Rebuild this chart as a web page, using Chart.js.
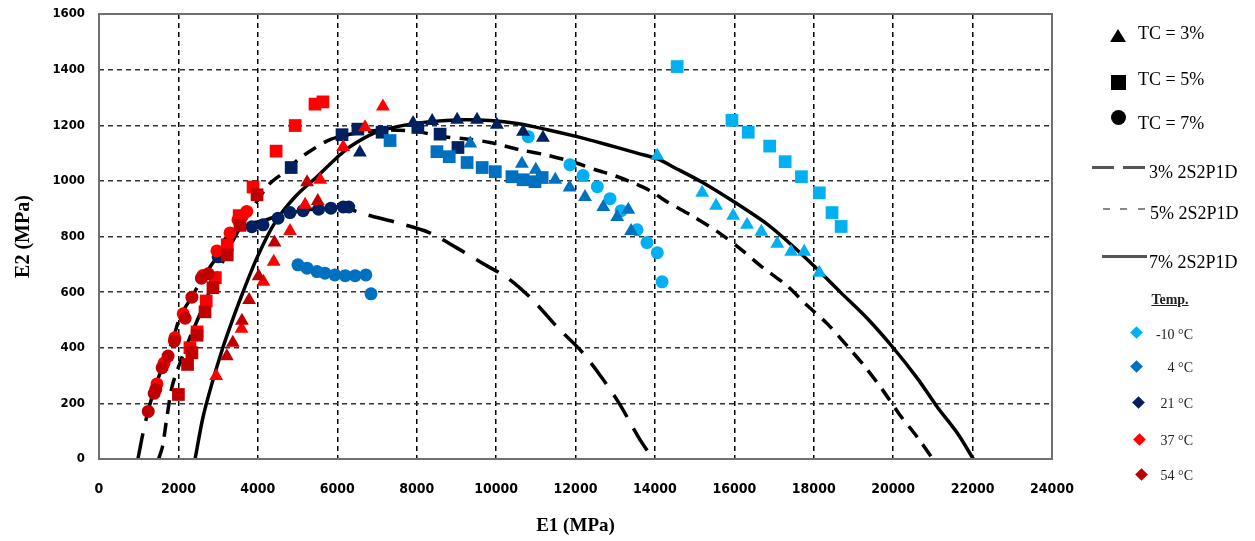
<!DOCTYPE html>
<html>
<head>
<meta charset="utf-8">
<script src="https://cdn.jsdelivr.net/npm/chart.js@4.4.1/dist/chart.umd.min.js"></script>
<style>
  body { margin: 0; background: #fff; }
  #wrap { position: relative; width: 1255px; height: 541px; }
  .lg { position: absolute; font-family: 'Liberation Serif', 'Times New Roman', serif; color: #000; white-space: nowrap; }
  .tc { font-size: 18px; line-height: 20px; }
  .tp { font-size: 14px; line-height: 16px; color: #222; width: 93px; left: 1100px; text-align: right; }
  .sym { position: absolute; }
  .dia { position: absolute; width: 9px; height: 9px; transform: rotate(45deg); }
  .seg { position: absolute; }
</style>
</head>
<body>
<div id="wrap">
  <canvas id="chart"></canvas>

  <!-- legend: marker shapes -->
  <div class="sym" style="left:1110px;top:29px;width:0;height:0;border-left:8px solid transparent;border-right:8px solid transparent;border-bottom:13px solid #000;"></div>
  <div class="lg tc" style="left:1138px;top:23px;">TC = 3%</div>
  <div class="sym" style="left:1111px;top:75px;width:15px;height:15px;background:#000;"></div>
  <div class="lg tc" style="left:1138px;top:69px;">TC = 5%</div>
  <div class="sym" style="left:1111px;top:110px;width:15px;height:15px;border-radius:50%;background:#000;"></div>
  <div class="lg tc" style="left:1138px;top:113px;">TC = 7%</div>

  <!-- legend: model curves -->
  <div class="seg" style="left:1092px;top:166px;width:22px;height:3px;background:#555;"></div>
  <div class="seg" style="left:1123px;top:166px;width:22px;height:3px;background:#555;"></div>
  <div class="lg tc" style="left:1149px;top:162px;">3% 2S2P1D</div>
  <div class="seg" style="left:1103px;top:208px;width:7px;height:2px;background:#888;"></div>
  <div class="seg" style="left:1120px;top:208px;width:7px;height:2px;background:#888;"></div>
  <div class="seg" style="left:1138px;top:208px;width:7px;height:2px;background:#888;"></div>
  <div class="lg tc" style="left:1150px;top:203px;">5% 2S2P1D</div>
  <div class="seg" style="left:1102px;top:255px;width:45px;height:3px;background:#555;"></div>
  <div class="lg tc" style="left:1149px;top:252px;">7% 2S2P1D</div>

  <!-- legend: temperatures -->
  <div class="lg" style="left:1148px;top:292px;width:44px;text-align:center;font-size:14px;line-height:16px;font-weight:bold;text-decoration:underline;color:#222;">Temp.</div>
  <div class="dia" style="left:1132px;top:328px;background:#00B0F0;"></div>
  <div class="lg tp" style="top:327px;">-10 °C</div>
  <div class="dia" style="left:1132px;top:362px;background:#0070C0;"></div>
  <div class="lg tp" style="top:360px;">4 °C</div>
  <div class="dia" style="left:1134px;top:398px;background:#002060;"></div>
  <div class="lg tp" style="top:396px;">21 °C</div>
  <div class="dia" style="left:1135px;top:435px;background:#FF0000;"></div>
  <div class="lg tp" style="top:433px;">37 °C</div>
  <div class="dia" style="left:1137px;top:470px;background:#C00000;"></div>
  <div class="lg tp" style="top:468px;">54 °C</div>
</div>

<script>
// ticks
const xTicks = [0, 2000, 4000, 6000, 8000, 10000, 12000, 14000, 16000, 18000, 20000, 22000, 24000];
const yTicks = [0, 200, 400, 600, 800, 1000, 1200, 1400, 1600];

// measured points [E1, E2] (MPa), read off the figure
// -10 °C
const tri_m10 = [[14060,1090],[15190,957],[15540,911],[15970,875],[16320,842],[16680,817],[17080,774],[17430,745],[17760,745],[18140,670]];
const sq_m10  = [[14560,1411],[15940,1218],[16350,1175],[16890,1125],[17280,1069],[17690,1015],[18140,957],[18460,886],[18690,836]];
const ci_m10  = [[10810,1159],[11860,1058],[12190,1019],[12550,979],[12870,936],[13150,893],[13550,824],[13800,778],[14060,742],[14180,637]];
// 4 °C
const tri_4 = [[9350,1134],[10650,1062],[11000,1040],[11490,1004],[11850,976],[12240,942],[12700,906],[13050,870],[13330,896],[13400,820]];
const sq_4  = [[7330,1145],[8510,1105],[8820,1087],[9270,1066],[9650,1048],[9980,1033],[10400,1015],[10680,1004],[10980,997],[11160,1012]];
const ci_4  = [[5010,698],[5240,686],[5490,674],[5690,668],[5940,662],[6200,659],[6450,659],[6720,662],[6850,594]];
// 21 °C
const tri_21 = [[6570,1102],[7910,1208],[8390,1215],[9020,1220],[9520,1220],[10020,1202],[10680,1177],[11180,1155]];
const sq_21  = [[4840,1048],[6120,1166],[6520,1186],[7130,1175],[8030,1192],[8590,1168],[9040,1120]];
const ci_21  = [[3000,727],[3850,835],[4130,842],[4510,866],[4810,886],[5140,893],[5530,898],[5840,902],[6150,906],[6290,906]];
// 37 °C
const tri_37 = [[7150,1267],[6700,1193],[6150,1122],[5570,1004],[5190,914],[4810,820],[4400,709],[4140,637],[3590,468],[2950,298]];
const sq_37  = [[5440,1276],[5640,1284],[4940,1199],[4460,1107],[3880,978],[3530,875],[3230,770],[2930,652],[2700,568],[2470,457],[2290,400]];
const ci_37  = [[3720,890],[3600,871],[3500,860],[3300,813],[2970,748],[2620,660],[2120,522],[1910,436],[1640,345],[1460,270]];
// 54 °C
const tri_54 = [[5240,995],[5510,928],[4420,778],[4020,657],[3780,572],[3600,497],[3370,418],[3220,369]];
const sq_54  = [[3980,950],[3550,840],[3230,734],[2870,616],[2670,529],[2470,445],[2340,382],[2230,340],[2000,232]];
const ci_54  = [[2750,666],[2580,650],[2340,582],[2170,506],[1900,424],[1740,370],[1590,328],[1430,250],[1390,236],[1240,171]];

// 2S2P1D model curves
const fit3 = [[980,0],[1110,94],[1250,180],[1420,260],[1620,340],[1840,418],[1990,490],[2150,540],[2340,583],[2540,634],[2800,691],[2970,727],[3220,800],[3730,842],[4200,860],[4800,885],[5500,900],[6100,905],[6700,880],[7500,850],[8300,815],[9000,760],[9700,700],[10300,650],[10900,575],[11600,465],[12100,395],[12600,305],[13100,200],[13600,75],[13950,0]];
const fit5 = [[1500,0],[1600,45],[1690,130],[1840,260],[2040,346],[2300,440],[2600,540],[2900,640],[3200,735],[3500,818],[3900,910],[4300,990],[4700,1035],[5000,1075],[5400,1115],[5850,1150],[6500,1172],[7200,1183],[8000,1178],[8600,1160],[9300,1150],[9850,1138],[10600,1112],[11300,1092],[12000,1065],[12500,1040],[13000,1018],[13500,990],[13900,963],[14300,925],[14950,873],[15600,815],[16200,750],[16700,690],[17300,626],[17850,550],[18350,485],[18850,405],[19300,330],[19750,245],[20150,162],[20600,80],[21000,0]];
const fit7 = [[2420,0],[2620,151],[2850,274],[3100,392],[3300,475],[3550,572],[3980,724],[4430,850],[4940,943],[5490,1015],[6000,1085],[6320,1123],[6900,1170],[7510,1195],[8340,1213],[9170,1220],[9850,1217],[10530,1206],[11290,1184],[12040,1159],[12800,1130],[13550,1100],[14080,1078],[14460,1050],[15190,995],[16020,922],[16850,842],[17400,775],[18000,695],[18670,600],[19350,505],[20000,400],[20610,290],[21110,187],[21610,94],[22020,0]];

const xy = arr => arr.map(p => ({ x: p[0], y: p[1] }));

const colM10 = '#00B0F0', col4 = '#0070C0', col21 = '#002060', col37 = '#FF0000', col54 = '#C00000';

function pts(data, color, style) {
  const r = style === 'rect' ? 9 : (style === 'triangle' ? 8 : 6.5);
  return {
    data: xy(data), pointStyle: style, pointRadius: r, pointHoverRadius: r,
    backgroundColor: color, borderColor: color, pointBorderWidth: 0,
    showLine: false, order: 1
  };
}
function curve(data, dash) {
  return {
    data: xy(data), showLine: true, pointRadius: 0, borderColor: '#000',
    borderWidth: 3.5, borderDash: dash, tension: 0.3, fill: false, order: 2
  };
}

const frame = {
  id: 'frame',
  afterDraw(chart) {
    const { ctx, chartArea: a } = chart;
    ctx.save();
    ctx.strokeStyle = '#707070';
    ctx.lineWidth = 2;
    ctx.strokeRect(a.left, a.top, a.right - a.left, a.bottom - a.top);
    ctx.restore();
  }
};

const tickFont = "'DejaVu Sans Condensed', 'Liberation Sans', sans-serif";

new Chart(document.getElementById('chart'), {
  type: 'scatter',
  data: {
    datasets: [
      curve(fit3, [26, 13]),
      curve(fit5, [14, 9]),
      curve(fit7, []),
      pts(ci_54, col54, 'circle'), pts(sq_54, col54, 'rect'), pts(tri_54, col54, 'triangle'),
      pts(ci_37, col37, 'circle'), pts(sq_37, col37, 'rect'), pts(tri_37, col37, 'triangle'),
      pts(ci_4, col4, 'circle'), pts(sq_4, col4, 'rect'), pts(tri_4, col4, 'triangle'),
      pts(ci_21, col21, 'circle'), pts(sq_21, col21, 'rect'), pts(tri_21, col21, 'triangle'),
      pts(ci_m10, colM10, 'circle'), pts(sq_m10, colM10, 'rect'), pts(tri_m10, colM10, 'triangle')
    ]
  },
  options: {
    responsive: true,
    maintainAspectRatio: false,
    animation: false,
    layout: { padding: { top: 14, right: 203, left: 0, bottom: 0 } },
    plugins: { legend: { display: false }, tooltip: { enabled: false } },
    scales: {
      x: {
        type: 'linear', min: 0, max: 24000,
        afterBuildTicks: s => { s.ticks = xTicks.map(v => ({ value: v })); },
        afterFit: s => { s.height = 82; s.paddingLeft = 0; s.paddingRight = 0; },
        grid: { color: '#000', lineWidth: 1.5, drawTicks: false },
        border: { display: false, dash: [5, 4] },
        ticks: { color: '#000', padding: 22, callback: v => String(v),
                 font: { family: tickFont, size: 14, weight: 'bold' } },
        title: { display: true, text: 'E1 (MPa)', color: '#000', padding: { top: 0, bottom: 4 },
                 font: { family: "'Liberation Serif', serif", size: 19, weight: 'bold' } }
      },
      y: {
        type: 'linear', min: 0, max: 1600,
        afterBuildTicks: s => { s.ticks = yTicks.map(v => ({ value: v })); },
        afterFit: s => { s.width = 99; s.paddingTop = 0; s.paddingBottom = 0; },
        grid: { color: '#333', lineWidth: 1.5, drawTicks: false },
        border: { display: false, dash: [5, 4] },
        ticks: { color: '#000', padding: 14, callback: v => String(v),
                 font: { family: tickFont, size: 13, weight: 'bold' } },
        title: { display: true, text: 'E2 (MPa)', color: '#000', padding: { top: 12, bottom: 0 },
                 font: { family: "'Liberation Serif', serif", size: 20, weight: 'bold' } }
      }
    }
  },
  plugins: [frame]
});
</script>
</body>
</html>
